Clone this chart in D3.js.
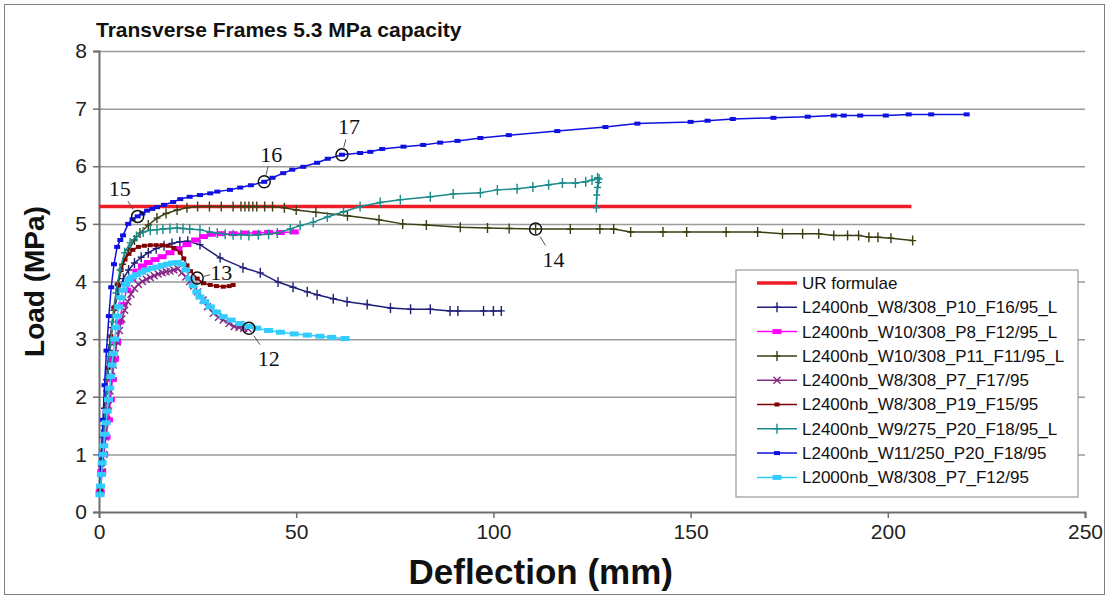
<!DOCTYPE html>
<html>
<head>
<meta charset="utf-8">
<script src="https://cdn.jsdelivr.net/npm/d3@7"></script>
<style>
  body { margin: 0; background: #fff; }
  svg { display: block; font-family: Arial, "Liberation Sans", sans-serif; }
</style>
</head>
<body>
<div id="chart"></div>
<script>
// deflection (mm) / load (MPa)
const urDefl = [0, 206];
const urLoad = [5.3, 5.3];

const p10Defl = [0.3,0.6,1.0,1.4,1.9,2.5,3.2,4.0,5.0,6.2,7.5,9.0,10.7,12.5,14.5,16.5,18.5,20.5,22.5,25.6,30.7,36.5,40.9,45.4,49.2,52.8,55.3,59.4,62.9,68,73.9,79,84,89,91,97.5,100,102];
const p10Load = [0.4,0.8,1.3,1.8,2.3,2.8,3.2,3.55,3.85,4.05,4.2,4.32,4.42,4.5,4.57,4.62,4.66,4.69,4.7,4.64,4.41,4.24,4.15,3.99,3.9,3.82,3.77,3.7,3.65,3.6,3.54,3.52,3.52,3.49,3.49,3.49,3.49,3.49];

const p8Defl = [0.3,0.7,1.2,1.8,2.4,2.9,3.4,3.9,4.5,5.2,6.0,7.0,8.2,9.6,11,12.5,14.2,16,18,20,22.3,24.5,26.5,28.5,31,34,37,40,43,46,49.5];
const p8Load = [0.35,0.7,1.0,1.3,1.6,1.95,2.3,2.65,2.95,3.3,3.6,3.85,4.05,4.18,4.27,4.33,4.38,4.43,4.5,4.57,4.64,4.72,4.78,4.82,4.83,4.83,4.84,4.84,4.85,4.85,4.86];

const p11Defl = [0.3,0.8,1.4,2.1,2.9,3.8,4.8,6.0,7.5,9,10.4,12.5,14.7,17,19.8,22.3,25,28,31,34,36,37,38,39,40,42,44,47,50,55,63,71,77,83,91.6,98.5,104,110.7,119.5,127,130.5,134.8,143,149,159,167,173.3,178.4,182.5,186.3,189.8,192.6,195.2,197.5,200.8,206.3];
const p11Load = [0.35,1.0,1.6,2.3,2.9,3.5,3.95,4.3,4.55,4.72,4.84,4.98,5.1,5.18,5.24,5.28,5.3,5.3,5.3,5.3,5.3,5.3,5.3,5.3,5.3,5.3,5.3,5.28,5.24,5.2,5.14,5.07,5.0,4.98,4.94,4.93,4.92,4.91,4.91,4.91,4.91,4.86,4.86,4.86,4.86,4.86,4.83,4.83,4.83,4.8,4.8,4.8,4.77,4.77,4.75,4.71];

const p7Defl = [0.4,0.8,1.2,1.6,2.0,2.4,2.8,3.2,3.6,4.1,4.6,5.2,5.8,6.5,7.3,8.1,9,10,11,12,13,14,15,16,17,18,19,20,21,22,23,24,25,26.4,27.5,29,30.3,31.5,33,34.3,35.5,36.7,37.8];
const p7Load = [0.4,0.7,1.0,1.3,1.6,1.85,2.1,2.35,2.55,2.75,2.95,3.15,3.35,3.5,3.65,3.78,3.88,3.95,4.0,4.04,4.07,4.1,4.13,4.15,4.17,4.18,4.2,4.22,4.15,4.08,4.0,3.92,3.82,3.68,3.56,3.45,3.38,3.33,3.27,3.22,3.2,3.19,3.18];

const p19Defl = [0.3,0.7,1.2,1.7,2.3,3.0,3.8,4.7,5.6,6.6,7.6,8.6,10,11.5,13,14.5,16,17.5,19,20.6,21.5,22.3,23.2,24.9,26.5,28.2,29.8,31.5,33,34];
const p19Load = [0.4,0.9,1.4,1.95,2.5,3.05,3.55,3.95,4.2,4.38,4.48,4.55,4.6,4.62,4.63,4.63,4.63,4.62,4.58,4.5,4.4,4.28,4.18,4.05,3.97,3.94,3.92,3.91,3.92,3.94];

const w9Defl = [0.3,0.8,1.3,1.9,2.6,3.4,4.3,5.3,6.5,7.9,9.5,11.2,13,14.7,16.2,18,19.8,21.3,23,25.6,28,30,32,34,36,38,40.4,43,45.2,48.5,51,54.3,57.9,62,66.2,71.3,76.4,84,89.8,96.7,101,106,110,114,117.5,120.8,123.4,125,126.4,126.8,126.6,126.4,126.2,126.1];
const w9Load = [0.35,0.9,1.5,2.1,2.7,3.3,3.8,4.2,4.5,4.67,4.78,4.86,4.89,4.9,4.91,4.92,4.93,4.92,4.91,4.9,4.86,4.84,4.82,4.81,4.81,4.8,4.81,4.82,4.84,4.91,4.97,5.03,5.12,5.21,5.3,5.37,5.42,5.47,5.52,5.54,5.59,5.61,5.64,5.68,5.71,5.71,5.73,5.76,5.8,5.78,5.72,5.63,5.5,5.28];

const w11Defl = [0.3,0.6,1.0,1.4,1.9,2.5,3.1,3.8,4.6,5.4,6.1,7.4,8.5,9.8,11,12.2,13.5,14.7,16.5,18.8,20.6,23,25.6,28.2,30,33.2,35.8,38.5,41.9,44,46.7,49,51.8,55.3,58,61.6,66.2,68.8,71.8,77.2,82.2,86.5,90.9,96.7,103.9,116.2,128.4,136.5,150,154.3,160.7,171,179.7,186.3,188.8,193,199.5,205.3,211,220];
const w11Load = [0.45,1.0,1.6,2.2,2.8,3.4,3.9,4.3,4.6,4.72,4.8,5.0,5.08,5.13,5.18,5.23,5.26,5.29,5.33,5.38,5.43,5.47,5.5,5.53,5.56,5.59,5.63,5.67,5.73,5.8,5.88,5.94,5.99,6.06,6.13,6.2,6.23,6.25,6.3,6.34,6.37,6.41,6.44,6.49,6.54,6.61,6.68,6.74,6.77,6.79,6.82,6.84,6.86,6.88,6.88,6.88,6.88,6.9,6.9,6.9];

const l2000Defl = [0.25,0.4,0.6,0.8,1.0,1.2,1.5,1.8,2.1,2.4,2.7,3.0,3.3,3.6,4.0,4.3,4.6,5.0,5.5,6.1,6.8,7.6,8.5,9.6,10.8,12,13.4,14.7,16,17.4,18.6,19.8,21,22,23,23.9,24.8,25.6,26.8,28.2,29.8,31.5,33.5,35.8,38,40,43,46,49.5,52.8,56,59,62.4];
const l2000Load = [0.3,0.45,0.65,0.85,1.0,1.15,1.35,1.55,1.75,1.95,2.15,2.35,2.55,2.75,3.0,3.2,3.4,3.56,3.72,3.85,3.95,4.03,4.08,4.12,4.16,4.2,4.23,4.25,4.28,4.3,4.32,4.33,4.3,4.2,4.05,3.93,3.82,3.73,3.65,3.56,3.47,3.39,3.33,3.27,3.22,3.19,3.15,3.12,3.09,3.07,3.05,3.03,3.01];

const seriesNames = [
  "UR formulae",
  "L2400nb_W8/308_P10_F16/95_L",
  "L2400nb_W10/308_P8_F12/95_L",
  "L2400nb_W10/308_P11_F11/95_L",
  "L2400nb_W8/308_P7_F17/95",
  "L2400nb_W8/308_P19_F15/95",
  "L2400nb_W9/275_P20_F18/95_L",
  "L2400nb_W11/250_P20_F18/95",
  "L2000nb_W8/308_P7_F12/95"
];

// numbered points marked on the curves
const noteLabels = ["12", "13", "14", "15", "16", "17"];
const noteDefl = [38, 24.9, 110.7, 9.8, 41.9, 61.6];
const noteLoad = [3.19, 4.06, 4.91, 5.13, 5.73, 6.2];

const xTicks = [0, 50, 100, 150, 200, 250];
const yTicks = [0, 1, 2, 3, 4, 5, 6, 7, 8];

const zip = (xs, ys) => xs.map((x, i) => ({ x: x, y: ys[i] }));

const series = [
  { name: seriesNames[0], data: zip(urDefl, urLoad), color: "#ee1c25", width: 3.5, marker: "none" },
  { name: seriesNames[1], data: zip(p10Defl, p10Load), color: "#1f1f7a", width: 1.5, marker: "plus" },
  { name: seriesNames[2], data: zip(p8Defl, p8Load), color: "#ff00ff", width: 1.5, marker: "wide" },
  { name: seriesNames[3], data: zip(p11Defl, p11Load), color: "#3d3d14", width: 1.5, marker: "plus" },
  { name: seriesNames[4], data: zip(p7Defl, p7Load), color: "#862a86", width: 1.5, marker: "cross" },
  { name: seriesNames[5], data: zip(p19Defl, p19Load), color: "#800000", width: 1.5, marker: "dot" },
  { name: seriesNames[6], data: zip(w9Defl, w9Load), color: "#1a8a8a", width: 1.5, marker: "plus" },
  { name: seriesNames[7], data: zip(w11Defl, w11Load), color: "#1010e0", width: 1.5, marker: "square" },
  { name: seriesNames[8], data: zip(l2000Defl, l2000Load), color: "#33ccff", width: 1.5, marker: "wide" }
];

const W = 1109, H = 599;
const margin = { top: 51, right: 24, bottom: 87, left: 99 };
const width = W - margin.left - margin.right;
const height = H - margin.top - margin.bottom;

const root = d3.select("#chart").append("svg")
  .attr("width", W)
  .attr("height", H);

root.append("rect")
  .attr("x", 4.5).attr("y", 4.5)
  .attr("width", W - 9).attr("height", H - 9)
  .attr("fill", "#fff")
  .attr("stroke", "#808080");

root.append("text")
  .attr("x", 96).attr("y", 37)
  .style("font-size", "21px")
  .style("font-weight", "bold")
  .attr("fill", "#111")
  .text("Transverse Frames 5.3 MPa capacity");

const svg = root.append("g")
  .attr("transform", `translate(${margin.left},${margin.top})`);

const x = d3.scaleLinear().domain([0, 250]).range([0, width]);
const y = d3.scaleLinear().domain([0, 8]).range([height, 0]);

// grid
svg.append("g")
  .call(d3.axisLeft(y).tickValues(yTicks.slice(1)).tickSize(-width).tickFormat(""))
  .call(g => g.select(".domain").remove())
  .selectAll("line")
  .attr("stroke", "#9a9a9a")
  .attr("stroke-width", 1.5);

// axes
const yAxis = svg.append("g")
  .call(d3.axisLeft(y).tickValues(yTicks).tickSize(6).tickPadding(6));
const xAxis = svg.append("g")
  .attr("transform", `translate(0,${height})`)
  .call(d3.axisBottom(x).tickValues(xTicks).tickSize(6).tickPadding(6));

[yAxis, xAxis].forEach(a => {
  a.select(".domain").attr("stroke", "#6e6e6e").attr("stroke-width", 2);
  a.selectAll(".tick line").attr("stroke", "#6e6e6e").attr("stroke-width", 1.5);
  a.selectAll("text")
    .style("font-size", "21px")
    .style("font-family", "Arial, 'Liberation Sans', sans-serif")
    .attr("fill", "#222");
});

root.append("text")
  .attr("transform", `translate(44,${margin.top + height / 2}) rotate(-90)`)
  .attr("text-anchor", "middle")
  .style("font-size", "28px")
  .style("font-weight", "bold")
  .attr("fill", "#111")
  .text("Load (MPa)");

root.append("text")
  .attr("x", margin.left + x(112))
  .attr("y", 584)
  .attr("text-anchor", "middle")
  .style("font-size", "35px")
  .style("font-weight", "bold")
  .attr("fill", "#111")
  .text("Deflection (mm)");

function drawMarker(g, kind, color) {
  if (kind === "plus") {
    g.append("path").attr("d", "M-3.5,0H3.5M0,-5V5")
      .attr("stroke", color).attr("stroke-width", 1.4).attr("fill", "none");
  } else if (kind === "cross") {
    g.append("path").attr("d", "M-3.5,-3.5L3.5,3.5M-3.5,3.5L3.5,-3.5")
      .attr("stroke", color).attr("stroke-width", 1.4).attr("fill", "none");
  } else if (kind === "wide") {
    g.append("rect").attr("x", -4.5).attr("y", -2.5).attr("width", 9).attr("height", 5)
      .attr("fill", color);
  } else if (kind === "square") {
    g.append("rect").attr("x", -3).attr("y", -2).attr("width", 6).attr("height", 4)
      .attr("fill", color);
  } else if (kind === "dot") {
    g.append("rect").attr("x", -2.5).attr("y", -2).attr("width", 5).attr("height", 4)
      .attr("fill", color);
  }
}

const line = d3.line()
  .x(d => x(d.x))
  .y(d => y(d.y));

series.forEach(s => {
  const g = svg.append("g");
  g.append("path")
    .datum(s.data)
    .attr("d", line)
    .attr("fill", "none")
    .attr("stroke", s.color)
    .attr("stroke-width", s.width)
    .attr("stroke-linejoin", "round");
  if (s.marker !== "none") {
    g.selectAll(".pt")
      .data(s.data)
      .enter()
      .append("g")
      .attr("transform", d => `translate(${x(d.x)},${y(d.y)})`)
      .each(function() { drawMarker(d3.select(this), s.marker, s.color); });
  }
});

// numbered callouts
const noteOffset = {
  "12": [20, 30], "13": [24, -6], "14": [18, 30],
  "15": [-18, -28], "16": [7, -28], "17": [7, -28]
};
const notes = svg.selectAll(".note")
  .data(noteLabels.map((t, i) => ({ t: t, x: noteDefl[i], y: noteLoad[i] })))
  .enter()
  .append("g")
  .attr("transform", d => `translate(${x(d.x)},${y(d.y)})`);

notes.append("circle")
  .attr("r", 6)
  .attr("fill", "none")
  .attr("stroke", "#111")
  .attr("stroke-width", 1.5);

notes.append("line")
  .attr("x1", d => noteOffset[d.t][0] * 0.25)
  .attr("y1", d => noteOffset[d.t][1] * 0.25)
  .attr("x2", d => noteOffset[d.t][0] * 0.55)
  .attr("y2", d => noteOffset[d.t][1] * 0.55)
  .attr("stroke", "#555")
  .attr("stroke-width", 1);

notes.append("text")
  .attr("x", d => noteOffset[d.t][0])
  .attr("y", d => noteOffset[d.t][1])
  .attr("dy", "0.35em")
  .attr("text-anchor", "middle")
  .style("font-family", "'Liberation Serif', 'DejaVu Serif', serif")
  .style("font-size", "22px")
  .attr("fill", "#111")
  .text(d => d.t);

// legend
const legend = root.append("g").attr("transform", "translate(736,270)");
legend.append("rect")
  .attr("width", 342).attr("height", 227)
  .attr("fill", "#fff")
  .attr("stroke", "#999")
  .attr("stroke-width", 1.2);

const rows = legend.selectAll(".row")
  .data(series)
  .enter()
  .append("g")
  .attr("transform", (d, i) => `translate(0,${13 + i * 24.3})`);

rows.append("line")
  .attr("x1", 21).attr("x2", 61)
  .attr("stroke", d => d.color)
  .attr("stroke-width", d => d.width);

rows.append("g")
  .attr("transform", "translate(41,0)")
  .each(function(d) { drawMarker(d3.select(this), d.marker, d.color); });

rows.append("text")
  .attr("x", 66)
  .attr("dy", "0.35em")
  .style("font-size", "17px")
  .attr("fill", "#111")
  .text(d => d.name);
</script>
</body>
</html>
